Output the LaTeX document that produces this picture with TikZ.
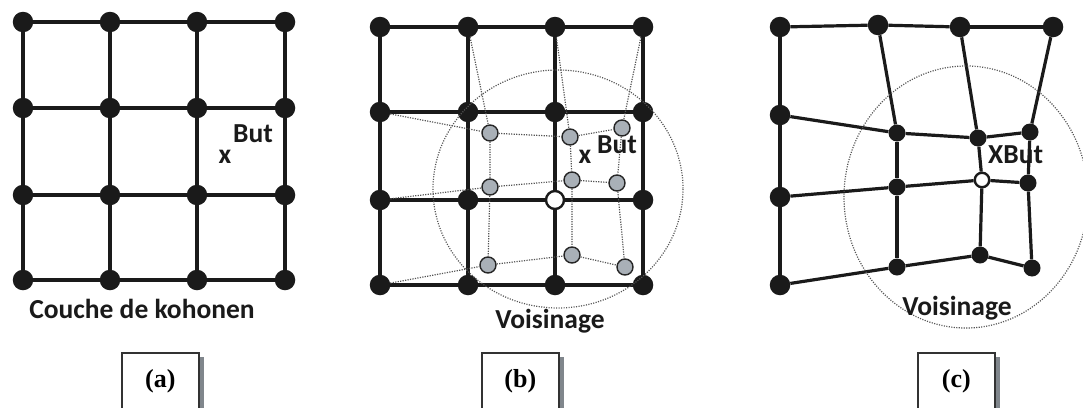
\documentclass[tikz,border=0pt]{standalone}
\usepackage{fontspec}
\newfontfamily\calfont{Carlito}
\newfontfamily\serfont{Liberation Serif}
\definecolor{gnode}{HTML}{A9B0B7}
\definecolor{ink}{HTML}{1A1A1A}
\definecolor{zonec}{HTML}{555555}
\definecolor{shadowc}{HTML}{80868C}
\begin{document}
\begin{tikzpicture}[x=1pt,y=-1pt,
  big/.style={circle,fill=ink,inner sep=0pt,minimum size=20.5pt},
  small/.style={circle,fill=ink,inner sep=0pt,minimum size=17pt},
  graynode/.style={circle,draw=black!85,line width=1.4pt,fill=gnode,inner sep=0pt,minimum size=16pt},
  winner/.style={circle,draw=ink,fill=white,line width=2.4pt,inner sep=0pt,minimum size=#1},
  gridline/.style={line width=3.2pt,draw=ink},
  newline/.style={line width=1.2pt,draw=zonec,dash pattern=on 1.2pt off 1.3pt},
  zone/.style={line width=1.2pt,draw=zonec,dash pattern=on 1.1pt off 1.4pt},
  lbl/.style={font=\calfont\bfseries\fontsize{27.5}{30}\selectfont,inner sep=0pt,text=ink},
  cross/.style={font=\calfont\bfseries\fontsize{27.5}{30}\selectfont,inner sep=0pt,text=ink},
  tagbox/.style={draw=black!80,line width=1.6pt,anchor=north west,minimum width=77pt,minimum height=56pt,inner sep=0pt,font=\serfont\bfseries\fontsize{26}{28}\selectfont}
]
\fill[white] (0,0) rectangle (1083,407);
\useasboundingbox (0,0) rectangle (1083,407);

% ---------- panel (a)
\foreach \x [count=\i] in {23,110,197,285}
  \foreach \y [count=\j] in {22,108,195,280}
    \node[big] (a\i\j) at (\x,\y) {};
\foreach \i/\k in {1/2,2/3,3/4}
  \foreach \j in {1,2,3,4} {
    \draw[gridline] (a\i\j) -- (a\k\j);
    \draw[gridline] (a\j\i) -- (a\j\k);
  }
\node[cross] (axa) at (225,157) {x};
\node[lbl,anchor=base west] (buta) at (233,142) {But};
\node[lbl,anchor=base] (couche) at (142,318) {Couche de kohonen};

% ---------- panel (b)
\node[big] (b11) at (380,27) {};
\node[big] (b21) at (468,27) {};
\node[big] (b31) at (555,27) {};
\node[big] (b41) at (643,27) {};
\node[big] (b12) at (380,112) {};
\node[big] (b22) at (468,112) {};
\node[big] (b32) at (555,112) {};
\node[big] (b42) at (643,112) {};
\node[big] (b13) at (380,200) {};
\node[big] (b23) at (468,200) {};
\node[winner=18pt] (b33) at (555,200) {};
\node[big] (b43) at (643,200) {};
\node[big] (b14) at (380,285) {};
\node[big] (b24) at (468,285) {};
\node[big] (b34) at (555,285) {};
\node[big] (b44) at (643,285) {};
\foreach \i/\k in {1/2,2/3,3/4}
  \foreach \j in {1,2,3,4} {
    \draw[gridline] (b\i\j) -- (b\k\j);
    \draw[gridline] (b\j\i) -- (b\j\k);
  }
\node[graynode] (g22) at (490,133) {};
\node[graynode] (g32) at (570,137) {};
\node[graynode] (g42) at (622,128) {};
\node[graynode] (g23) at (490,187) {};
\node[graynode] (g33) at (572,180) {};
\node[graynode] (g43) at (617,183) {};
\node[graynode] (g24) at (488,265) {};
\node[graynode] (g34) at (572,255) {};
\node[graynode] (g44) at (625,267) {};
\draw[newline] (b21) -- (g22) -- (g23) -- (g24);
\draw[newline] (b31) -- (g32) -- (g33) -- (g34);
\draw[newline] (b41) -- (g42) -- (g43) -- (g44);
\draw[newline] (b12) -- (g22) -- (g32) -- (g42);
\draw[newline] (b13) -- (g23) -- (g33) -- (g43);
\draw[newline] (b14) -- (g24) -- (g34) -- (g44);
\draw[zone] (558,189) ellipse [x radius=125, y radius=119];
\node[cross] (axb) at (585,157) {x};
\node[lbl,anchor=base west] (butb) at (597,153) {But};
\node[lbl,anchor=base] (voisb) at (550,328) {Voisinage};

% ---------- panel (c)
\node[big] (c11) at (780,27) {};
\node[big] (c21) at (878,25) {};
\node[big] (c31) at (960,27) {};
\node[big] (c41) at (1053,27) {};
\node[big] (c12) at (780,115) {};
\node[small] (c22) at (897,133) {};
\node[small] (c32) at (978,138) {};
\node[small] (c42) at (1030,132) {};
\node[big] (c13) at (780,197) {};
\node[small] (c23) at (897,187) {};
\node[winner=14.5pt] (c33) at (982,180) {};
\node[small] (c43) at (1028,183) {};
\node[big] (c14) at (780,285) {};
\node[small] (c24) at (897,267) {};
\node[small] (c34) at (980,255) {};
\node[small] (c44) at (1032,268) {};
\foreach \i/\k in {1/2,2/3,3/4}
  \foreach \j in {1,2,3,4} {
    \draw[gridline] (c\i\j) -- (c\k\j);
    \draw[gridline] (c\j\i) -- (c\j\k);
  }
\draw[zone] (966,197) ellipse [x radius=122, y radius=131];
\node[lbl,anchor=base west] (butc) at (988,163) {XBut};
\node[lbl,anchor=base] (voisc) at (957,315) {Voisinage};

% ---------- tags
\foreach \n/\x/\t in {a/121/(a),b/481/(b),c/917/(c)} {
  \fill[shadowc] (\x+77,357) rectangle (\x+83,410);
  \node[tagbox] (tag\n) at (\x,352) {\t};
}
\end{tikzpicture}
\end{document}
